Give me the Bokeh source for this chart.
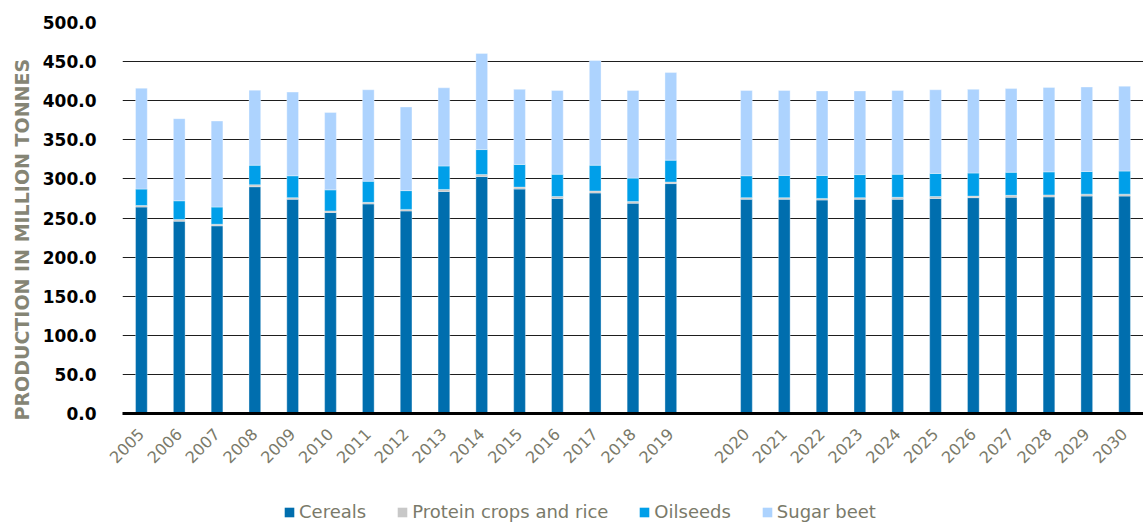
import math
from bokeh.plotting import figure
from bokeh.layouts import column
from bokeh.models import (FactorRange, Range1d, FixedTicker, PrintfTickFormatter,
                          Legend, LegendItem, Title, ColumnDataSource)
from bokeh.embed import file_html
from bokeh.resources import INLINE

# ---- data (million tonnes) ----
years_hist = [str(y) for y in range(2005, 2020)]
years_proj = [str(y) for y in range(2020, 2031)]
years = years_hist + years_proj

cereals = [264, 246, 240, 290, 274, 257, 268, 259, 284, 303, 287, 275, 282, 269, 294,
           274, 274, 273, 274, 274, 275, 276, 276.5, 277, 278, 278]
protein = [2, 2, 2, 2.5, 2, 2, 2, 2, 2.5, 2.5, 2.5, 2.5, 2.5, 2, 2,
           2, 2, 2, 2, 2.5, 2.5, 2, 2.5, 2.5, 2.5, 2.5]
oilseeds = [21, 24, 22, 25, 28, 27, 27, 24, 30, 32, 29, 28.5, 33, 30, 28,
            28, 28.5, 29.5, 29.5, 29.5, 29.5, 29.5, 29.5, 29.5, 29, 29.5]
sugar_beet = [129, 105, 110, 96, 107, 99, 117, 107, 100, 123, 96, 107, 134, 112, 112,
              109, 108.5, 108, 107, 107, 107, 107, 107, 108, 108, 108.5]

series = ["Cereals", "Protein crops and rice", "Oilseeds", "Sugar beet"]
colors = ["#006eae", "#c8c8c8", "#009fe9", "#add3fe"]
y_ticks = [0, 50, 100, 150, 200, 250, 300, 350, 400, 450, 500]

source = ColumnDataSource(dict(year=years, Cereals=cereals,
                               **{"Protein crops and rice": protein},
                               Oilseeds=oilseeds, **{"Sugar beet": sugar_beet}))

factors = years_hist + [" "] + years_proj

p = figure(width=1143, height=495, output_backend="svg", toolbar_location=None,
           x_range=FactorRange(factors=factors, range_padding=0),
           y_range=Range1d(0, 500),
           min_border_left=122, min_border_right=0, min_border_top=22,
           min_border_bottom=82)
p.outline_line_color = None
p.background_fill_color = "white"

p.vbar_stack(series, x="year", width=0.31, source=source, color=colors,
             line_color="white", line_alpha=0.35, line_width=1)

# grid
p.xgrid.grid_line_color = None
p.ygrid.grid_line_color = "#1e1e1e"
p.ygrid.grid_line_width = 1
p.ygrid.ticker = FixedTicker(ticks=y_ticks)

# y axis
p.yaxis.ticker = FixedTicker(ticks=y_ticks)
p.yaxis.formatter = PrintfTickFormatter(format="%.1f")
p.yaxis.axis_line_color = None
p.yaxis.major_tick_line_color = None
p.yaxis.minor_tick_line_color = None
p.yaxis.major_label_standoff = 20
p.yaxis.major_label_text_font = "DejaVu Sans"
p.yaxis.major_label_text_font_style = "bold"
p.yaxis.major_label_text_font_size = "17px"
p.yaxis.major_label_text_color = "#000000"

# x axis
p.xaxis.axis_line_color = "#000000"
p.xaxis.axis_line_width = 3
p.xaxis.major_tick_line_color = None
p.xaxis.minor_tick_line_color = None
p.xaxis.major_label_orientation = math.pi / 4
p.xaxis.major_label_standoff = 12
p.xaxis.major_label_text_font = "DejaVu Sans"
p.xaxis.major_label_text_font_size = "16px"
p.xaxis.major_label_text_color = "#7a7a6a"

# y axis title
p.add_layout(Title(text="PRODUCTION IN MILLION TONNES", align="left", offset=-7,
                   text_font="DejaVu Sans", text_font_style="bold",
                   text_font_size="19px", text_color="#858575", standoff=13), "left")

# ---- legend strip (bars drawn above its visible range, only the legend shows) ----
leg = figure(width=1143, height=27, output_backend="svg", toolbar_location=None,
             x_range=FactorRange(factors=factors, range_padding=0),
             y_range=Range1d(1000, 1001),
             x_axis_type=None, y_axis_type=None,
             min_border_left=0, min_border_right=0, min_border_top=0, min_border_bottom=0)
leg.outline_line_color = None
leg.xgrid.visible = False
leg.ygrid.visible = False
leg_renderers = leg.vbar_stack(series, x="year", width=0.31, source=source,
                               color=colors, line_color=None)
legend = Legend(items=[LegendItem(label=s, renderers=[r])
                       for s, r in zip(series, leg_renderers)],
                orientation="horizontal", location=(161, 0),
                glyph_width=12, glyph_height=12, label_standoff=4, spacing=30,
                padding=0, margin=0, border_line_color=None,
                background_fill_alpha=0, label_height=20,
                label_text_font="DejaVu Sans", label_text_font_size="18px",
                label_text_color="#7a7a6a")
leg.add_layout(legend, "center")

open("out.html", "w").write(file_html(column(p, leg, spacing=0), INLINE))
